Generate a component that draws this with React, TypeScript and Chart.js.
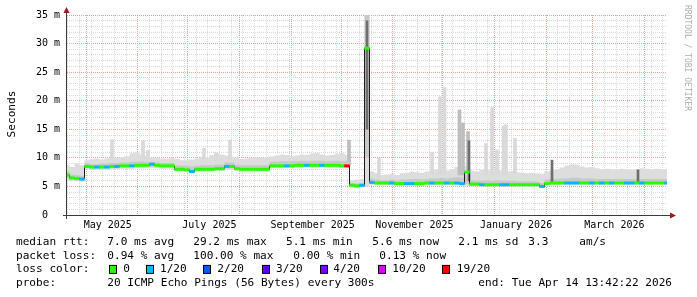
import React, { useEffect, useRef } from 'react';
import { Chart, registerables } from 'chart.js';

Chart.register(...registerables);

const MONO = '"DejaVu Sans Mono", "Liberation Mono", monospace';

// time axis in days since graph start (Apr 19 2025 13:42:22 UTC), 360 days span
const START_UTC = Date.UTC(2025, 3, 19, 13, 42, 22);
const DAY_MS = 86400000;
const SPAN_DAYS = 360;
const STEP_DAYS = 3;

// median RTT (ms), one value every 3 days
const medianRtt = [
  7.0, 6.5, 6.4, 6.3, 8.5, 8.4, 8.4, 8.4, 8.4, 8.5,
  8.5, 8.6, 8.6, 8.6, 8.7, 8.7, 8.7, 8.9, 8.7, 8.6,
  8.6, 8.6, 8.0, 8.0, 7.9, 7.6, 8.0, 8.0, 8.0, 8.0,
  8.1, 8.1, 8.5, 8.5, 8.1, 8.0, 8.0, 8.0, 8.0, 8.0,
  8.0, 8.6, 8.6, 8.6, 8.6, 8.6, 8.7, 8.7, 8.7, 8.7,
  8.7, 8.7, 8.7, 8.7, 8.7, 8.6, 8.6, 5.2, 5.1, 5.2,
  29.2, 5.7, 5.6, 5.6, 5.6, 5.6, 5.5, 5.5, 5.5, 5.5,
  5.5, 5.5, 5.6, 5.6, 5.6, 5.6, 5.6, 5.6, 5.6, 5.5,
  7.5, 5.4, 5.4, 5.3, 5.3, 5.3, 5.3, 5.3, 5.3, 5.3,
  5.3, 5.3, 5.3, 5.3, 5.3, 5.0, 5.5, 5.6, 5.6, 5.6,
  5.6, 5.6, 5.6, 5.6, 5.6, 5.6, 5.6, 5.6, 5.6, 5.6,
  5.6, 5.6, 5.6, 5.6, 5.6, 5.6, 5.6, 5.6, 5.6, 5.6,
  5.6,
];

// lost pings out of 20
const lossCount = [
  0, 0, 0, 1, 0, 0, 1, 0, 1, 0,
  1, 0, 0, 1, 0, 0, 0, 1, 0, 0,
  0, 0, 0, 0, 0, 1, 0, 0, 0, 0,
  0, 0, 1, 0, 0, 0, 0, 0, 0, 0,
  0, 0, 0, 0, 1, 0, 0, 0, 1, 0,
  0, 1, 0, 0, 0, 0, 19, 0, 0, 1,
  0, 1, 0, 0, 0, 1, 0, 0, 1, 1,
  0, 0, 0, 1, 0, 0, 1, 0, 1, 1,
  0, 0, 0, 1, 0, 0, 0, 1, 1, 0,
  0, 0, 0, 0, 0, 1, 0, 0, 0, 0,
  1, 1, 1, 0, 0, 1, 0, 1, 0, 1,
  0, 0, 1, 1, 0, 1, 0, 0, 0, 0,
  1,
];

const smokeMin = [
  6.0, 5.9, 5.9, 5.8, 8.0, 7.9, 7.9, 7.9, 7.9, 8.0,
  8.0, 8.1, 8.1, 8.1, 8.2, 8.2, 8.2, 8.2, 8.2, 8.1,
  8.1, 8.1, 7.6, 7.6, 7.5, 7.3, 7.6, 7.6, 7.6, 7.6,
  7.7, 7.7, 7.9, 7.9, 7.7, 7.6, 7.6, 7.6, 7.6, 7.6,
  7.6, 8.2, 8.2, 8.2, 8.2, 8.2, 8.3, 8.3, 8.3, 8.3,
  8.3, 8.3, 8.3, 8.3, 8.3, 8.2, 8.2, 4.8, 4.7, 4.8,
  5.0, 5.3, 5.2, 5.2, 5.2, 5.2, 5.1, 5.1, 5.1, 5.1,
  5.1, 5.1, 5.2, 5.2, 5.2, 5.2, 5.2, 5.2, 5.2, 5.1,
  5.1, 5.0, 5.0, 5.0, 5.0, 5.0, 5.0, 5.0, 5.0, 5.0,
  5.0, 4.9, 4.9, 4.9, 4.9, 4.7, 5.2, 5.2, 5.2, 5.3,
  5.3, 5.3, 5.3, 5.3, 5.3, 5.3, 5.3, 5.3, 5.3, 5.3,
  5.3, 5.3, 5.3, 5.3, 5.3, 5.3, 5.3, 5.3, 5.3, 5.3,
  5.3,
];

const smokeLowQ = [
  6.5, 6.2, 6.1, 6.0, 8.3, 8.2, 8.2, 8.2, 8.2, 8.3,
  8.3, 8.4, 8.4, 8.4, 8.5, 8.5, 8.5, 8.5, 8.5, 8.4,
  8.4, 8.4, 7.8, 7.8, 7.7, 7.5, 7.8, 7.8, 7.8, 7.8,
  7.9, 7.9, 8.2, 8.2, 7.9, 7.8, 7.8, 7.8, 7.8, 7.8,
  7.8, 8.4, 8.4, 8.4, 8.4, 8.4, 8.5, 8.5, 8.5, 8.5,
  8.5, 8.5, 8.5, 8.5, 8.5, 8.4, 8.4, 5.0, 4.9, 5.0,
  10.0, 5.5, 5.4, 5.4, 5.4, 5.4, 5.3, 5.3, 5.3, 5.3,
  5.3, 5.3, 5.4, 5.4, 5.4, 5.4, 5.4, 5.4, 5.4, 5.3,
  5.4, 5.2, 5.2, 5.2, 5.2, 5.2, 5.2, 5.2, 5.2, 5.2,
  5.2, 5.1, 5.1, 5.1, 5.1, 4.9, 5.4, 5.4, 5.4, 5.5,
  5.5, 5.5, 5.5, 5.5, 5.5, 5.5, 5.5, 5.5, 5.5, 5.5,
  5.5, 5.5, 5.5, 5.5, 5.5, 5.5, 5.5, 5.5, 5.5, 5.5,
  5.5,
];

const smokeHighQ = [
  7.6, 7.1, 7.0, 6.8, 9.0, 8.9, 8.9, 9.0, 9.0, 9.1,
  9.1, 9.2, 9.2, 9.3, 9.3, 9.4, 9.3, 9.3, 9.2, 9.1,
  9.1, 9.1, 8.7, 8.6, 8.6, 8.5, 8.6, 8.7, 8.7, 8.7,
  8.8, 8.8, 9.2, 9.2, 8.8, 8.7, 8.7, 8.7, 8.7, 8.7,
  8.7, 9.3, 9.3, 9.4, 9.4, 9.4, 9.4, 9.5, 9.4, 9.5,
  9.5, 9.5, 9.4, 9.5, 9.5, 9.4, 9.4, 5.6, 5.5, 5.6,
  35.0, 6.4, 6.2, 6.1, 6.1, 6.2, 6.1, 6.2, 6.2, 6.3,
  6.3, 6.2, 6.3, 6.4, 6.4, 6.5, 6.4, 6.5, 6.6, 6.5,
  7.0, 6.1, 6.0, 6.0, 6.1, 6.0, 6.1, 6.0, 6.0, 6.0,
  5.9, 5.9, 5.9, 5.9, 5.8, 5.6, 6.2, 6.3, 6.3, 6.4,
  6.4, 6.5, 6.5, 6.4, 6.4, 6.4, 6.3, 6.3, 6.3, 6.3,
  6.3, 6.3, 6.3, 6.3, 6.3, 6.3, 6.3, 6.3, 6.3, 6.3,
  6.3,
];

const smokeMax = [
  8.8, 8.4, 9.0, 8.7, 9.6, 9.8, 9.9, 9.7, 9.9, 10.2,
  10.0, 10.1, 10.3, 10.8, 11.0, 10.6, 10.4, 10.0, 10.0, 9.9,
  9.9, 10.0, 9.8, 9.6, 9.6, 9.7, 9.9, 10.2, 10.0, 10.5,
  10.8, 10.6, 10.4, 10.2, 10.0, 9.8, 9.9, 10.0, 10.1, 10.0,
  10.1, 10.3, 10.4, 10.6, 10.5, 10.3, 10.4, 10.6, 10.5, 10.7,
  10.9, 10.6, 10.4, 10.5, 10.7, 10.8, 10.6, 6.1, 6.2, 6.3,
  36.0, 7.6, 7.3, 7.0, 7.1, 7.2, 7.0, 7.3, 7.4, 7.6,
  7.5, 7.4, 7.6, 7.8, 8.0, 8.2, 7.8, 8.0, 8.4, 8.1,
  8.6, 7.8, 7.6, 7.9, 8.0, 7.7, 8.2, 7.8, 7.6, 7.7,
  7.5, 7.4, 7.3, 7.4, 7.3, 7.2, 7.6, 7.8, 8.0, 8.3,
  8.6, 8.9, 8.8, 8.5, 8.3, 8.4, 8.2, 8.0, 8.1, 8.0,
  7.9, 8.1, 8.0, 7.9, 8.0, 8.2, 8.1, 8.0, 8.1, 8.0,
  8.0,
];

// narrow smoke spikes (day, low ms, high ms)
const spikeLightDays = [27.0, 45.6, 48.6, 82.2, 89.4, 97.8, 187.2, 219.0, 223.8, 226.5, 251.4, 255.0, 258.0, 261.9, 263.4, 268.8];
const spikeLightLow = [9.8, 9.8, 9.8, 9.5, 9.5, 9.8, 6.5, 7.0, 7.0, 7.0, 7.0, 7.0, 7.0, 7.0, 7.0, 7.0];
const spikeLightHigh = [13.2, 13.0, 11.3, 11.7, 10.9, 13.1, 10.0, 11.0, 20.7, 22.3, 12.5, 18.8, 11.4, 15.6, 15.8, 13.4];

const spikeMidDays = [169.2, 235.5, 237.6, 240.6];
const spikeMidLow = [8.6, 7.0, 7.0, 7.5];
const spikeMidHigh = [13.1, 18.4, 16.1, 14.6];

const spikeDarkDays = [180.0, 241.2, 291.0, 342.6];
const spikeDarkLow = [15.0, 6.0, 5.7, 5.7];
const spikeDarkHigh = [34.0, 13.0, 9.6, 7.9];

// axis labels
const monthLabels = ['May 2025', 'July 2025', 'September 2025', 'November 2025', 'January 2026', 'March 2026'];
const monthLabelYears = [2025, 2025, 2025, 2025, 2026, 2026];
const monthLabelMonths = [4, 6, 8, 10, 0, 2];
const yMajorValues = [0, 5, 10, 15, 20, 25, 30, 35];
const yMajorLabels = ['0  ', '5 m', '10 m', '15 m', '20 m', '25 m', '30 m', '35 m'];

// loss colours
const lossLevels = [0, 1, 2, 3, 4, 10, 19];
const lossLegend = ['0', '1/20', '2/20', '3/20', '4/20', '10/20', '19/20'];
const lossColors = ['#26ff00', '#00b8ff', '#0059ff', '#5e00ff', '#7e00ff', '#dd00ff', '#ff0000'];

// legend texts
const rttStats = ['7.0 ms avg', '29.2 ms max', '5.1 ms min', '5.6 ms now', '2.1 ms sd', '3.3', 'am/s'];
const lossStats = ['0.94 % avg', '100.00 % max', '0.00 % min', '0.13 % now'];
const probeText = '20 ICMP Echo Pings (56 Bytes) every 300s';
const endText = 'end: Tue Apr 14 13:42:22 2026';

// layout (pixels)
const RTT_X = [107.3, 193.3, 286, 372.3, 458.3, 528.3, 579.3];
const LOSS_X = [107.3, 193.3, 293.3, 379.3];
const SWATCH_X = [109, 146, 203, 262, 320, 378, 442];
const SWATCH_LABEL_X = [123.3, 160, 217.3, 276, 333.3, 392.3, 456.7];
const ROW_Y = [245, 258.7, 272.4, 286];

const MAJOR_GRID = '#e9a3a3';
const MINOR_GRID = '#d8d8d8';

function colorForLoss(n: number) {
  let c = lossColors[0];
  lossLevels.forEach((lv, k) => {
    if (n >= lv) c = lossColors[k];
  });
  return c;
}

function dayOf(y: number, m: number, d: number) {
  return (Date.UTC(y, m, d) - START_UTC) / DAY_MS;
}

type XT = { value: number; kind: 'month' | 'week' | 'label'; label?: string };

function buildXTicks(): XT[] {
  const out: XT[] = [];
  const months: number[] = [];
  for (let k = 0; k < 12; k++) {
    const v = dayOf(2025, 4 + k, 1);
    months.push(v);
    out.push({ value: v, kind: 'month' });
  }
  for (let v = dayOf(2025, 3, 20); v <= SPAN_DAYS; v += 7) {
    if (!months.some((m) => Math.abs(m - v) < 0.01)) out.push({ value: v, kind: 'week' });
  }
  monthLabels.forEach((lab, k) => {
    out.push({ value: dayOf(monthLabelYears[k], monthLabelMonths[k], 1) + 13, kind: 'label', label: lab });
  });
  out.sort((a, b) => a.value - b.value);
  return out;
}

const pts = (arr: number[]) => arr.map((v, i) => ({ x: i * STEP_DAYS, y: v }));
const bars = (days: number[], lo: number[], hi: number[]) => days.map((d, i) => ({ x: d, y: [lo[i], hi[i]] }));

const overlayPlugin = {
  id: 'overlay',
  beforeDraw(chart: any) {
    const { ctx } = chart;
    ctx.save();
    ctx.fillStyle = '#ffffff';
    ctx.fillRect(0, 0, chart.width, chart.height);
    ctx.restore();
  },
  afterDraw(chart: any) {
    const { ctx, chartArea: ca } = chart;
    ctx.save();
    // axes
    const ax = ca.left - 0.5;
    const ay = ca.bottom + 0.5;
    ctx.strokeStyle = '#3a3a3a';
    ctx.lineWidth = 1;
    ctx.beginPath();
    ctx.moveTo(ax, ca.top - 3);
    ctx.lineTo(ax, ca.bottom + 4);
    ctx.moveTo(ca.left - 4, ay);
    ctx.lineTo(ca.right + 4, ay);
    ctx.stroke();
    ctx.fillStyle = '#9b1c1c';
    ctx.beginPath();
    ctx.moveTo(ax, ca.top - 8);
    ctx.lineTo(ax - 3, ca.top - 2);
    ctx.lineTo(ax + 3, ca.top - 2);
    ctx.closePath();
    ctx.fill();
    ctx.beginPath();
    ctx.moveTo(ca.right + 9, ay);
    ctx.lineTo(ca.right + 3, ay - 3);
    ctx.lineTo(ca.right + 3, ay + 3);
    ctx.closePath();
    ctx.fill();

    // y title
    ctx.fillStyle = '#000';
    ctx.font = `11.1px ${MONO}`;
    ctx.save();
    ctx.translate(15, 114);
    ctx.rotate(-Math.PI / 2);
    ctx.textAlign = 'center';
    ctx.textBaseline = 'alphabetic';
    ctx.fillText('Seconds', 0, 0);
    ctx.restore();

    // watermark
    ctx.save();
    ctx.fillStyle = '#adadad';
    ctx.font = `8px ${MONO}`;
    ctx.translate(684.5, 5);
    ctx.rotate(Math.PI / 2);
    ctx.textAlign = 'left';
    ctx.textBaseline = 'alphabetic';
    ctx.fillText('RRDTOOL / TOBI OETIKER', 0, 0);
    ctx.restore();

    // legend
    ctx.fillStyle = '#000';
    ctx.font = `11.1px ${MONO}`;
    ctx.textAlign = 'left';
    ctx.textBaseline = 'alphabetic';
    ctx.fillText('median rtt:', 16, ROW_Y[0]);
    rttStats.forEach((s, k) => ctx.fillText(s, RTT_X[k], ROW_Y[0]));
    ctx.fillText('packet loss:', 16, ROW_Y[1]);
    lossStats.forEach((s, k) => ctx.fillText(s, LOSS_X[k], ROW_Y[1]));
    ctx.fillText('loss color:', 16, ROW_Y[2]);
    lossLegend.forEach((s, k) => {
      const sx = SWATCH_X[k];
      ctx.fillStyle = '#000';
      ctx.fillRect(sx, ROW_Y[2] - 7.5, 8, 9);
      ctx.fillStyle = lossColors[k];
      ctx.fillRect(sx + 1, ROW_Y[2] - 6.5, 6, 7);
      ctx.fillStyle = '#000';
      ctx.fillText(s, SWATCH_LABEL_X[k], ROW_Y[2]);
    });
    ctx.fillText('probe:', 16, ROW_Y[3]);
    ctx.fillText(probeText, 107.3, ROW_Y[3]);
    ctx.fillText(endText, 478.3, ROW_Y[3]);
    ctx.restore();
  },
};

export default function App() {
  const ref = useRef<HTMLCanvasElement>(null);

  useEffect(() => {
    const xTicks = buildXTicks();
    const lineBase = {
      type: 'line' as const,
      pointRadius: 0,
      borderWidth: 0,
      borderColor: 'rgba(0,0,0,0)',
      stepped: 'middle' as const,
    };
    const datasets: any[] = [
      { ...lineBase, label: 'smoke min', data: pts(smokeMin), fill: false, order: 6 },
      { ...lineBase, label: 'smoke max', data: pts(smokeMax), fill: '-1', backgroundColor: '#dddddd', order: 6 },
      {
        type: 'bar', label: 'spikes', data: bars(spikeLightDays, spikeLightLow, spikeLightHigh),
        backgroundColor: '#d9d9d9', barThickness: 3, stack: 'smoke', order: 5,
      },
      {
        type: 'bar', label: 'spikes mid', data: bars(spikeMidDays, spikeMidLow, spikeMidHigh),
        backgroundColor: '#bdbdbd', barThickness: 3, stack: 'smoke', order: 4,
      },
      { ...lineBase, label: 'smoke lq', data: pts(smokeLowQ), fill: false, order: 3 },
      { ...lineBase, label: 'smoke hq', data: pts(smokeHighQ), fill: '-1', backgroundColor: '#c8c8c8', order: 3 },
      {
        type: 'bar', label: 'spikes dark', data: bars(spikeDarkDays, spikeDarkLow, spikeDarkHigh),
        backgroundColor: '#6e6e6e', barThickness: 2, stack: 'smoke', order: 2,
      },
      {
        type: 'line', label: 'median', data: pts(medianRtt), pointRadius: 0, borderWidth: 1,
        borderColor: '#1c1c1c', stepped: 'middle', fill: false, order: 1,
      },
      {
        type: 'line', label: 'median loss', data: pts(medianRtt), showLine: false, fill: false,
        pointStyle: 'line', pointRadius: 2.7, pointBorderWidth: 3, pointHoverRadius: 0,
        pointBorderColor: lossCount.map(colorForLoss), order: 0,
      },
    ];

    const chart = new Chart(ref.current as HTMLCanvasElement, {
      type: 'line',
      data: { datasets },
      plugins: [overlayPlugin],
      options: {
        responsive: false,
        animation: false,
        devicePixelRatio: 1,
        events: [],
        layout: { padding: { left: 0, right: 30, top: 15, bottom: 62 } },
        plugins: { legend: { display: false }, tooltip: { enabled: false } },
        scales: {
          x: {
            type: 'linear',
            min: 0,
            max: SPAN_DAYS,
            offset: false,
            afterBuildTicks: (s: any) => {
              s.ticks = xTicks.map((t) => ({ value: t.value }));
            },
            afterFit: (s: any) => {
              s.height = 20;
            },
            grid: {
              offset: false,
              drawTicks: false,
              lineWidth: 1,
              color: (c: any) => {
                const t = xTicks[c.index];
                if (!t) return 'rgba(0,0,0,0)';
                return t.kind === 'month' ? MAJOR_GRID : t.kind === 'week' ? MINOR_GRID : 'rgba(0,0,0,0)';
              },
            },
            border: { display: false, dash: [1, 1] },
            ticks: {
              autoSkip: false,
              maxRotation: 0,
              minRotation: 0,
              padding: 4,
              color: '#000',
              font: { family: MONO, size: 10 },
              callback: (_v: any, i: number) => (xTicks[i] && xTicks[i].label) || '',
            },
          },
          y: {
            type: 'linear',
            min: 0,
            max: 35,
            stacked: false,
            afterBuildTicks: (s: any) => {
              const t: any[] = [];
              for (let v = 0; v <= 35; v++) t.push({ value: v });
              s.ticks = t;
            },
            afterFit: (s: any) => {
              s.width = 67;
            },
            grid: {
              drawTicks: false,
              lineWidth: 1,
              color: (c: any) => (c.tick && c.tick.value % 5 === 0 ? MAJOR_GRID : MINOR_GRID),
            },
            border: { display: false, dash: [1, 1] },
            ticks: {
              autoSkip: false,
              padding: 7,
              color: '#000',
              font: { family: MONO, size: 10 },
              callback: (v: any) => {
                const k = yMajorValues.indexOf(Number(v));
                return k >= 0 ? yMajorLabels[k] : '';
              },
            },
          },
        },
      } as any,
    });
    return () => chart.destroy();
  }, []);

  return (
    <div style={{ position: 'absolute', left: 0, top: 0, width: 697, height: 297, background: '#fff' }}>
      <canvas ref={ref} width={697} height={297} style={{ display: 'block', width: 697, height: 297 }} />
    </div>
  );
}
